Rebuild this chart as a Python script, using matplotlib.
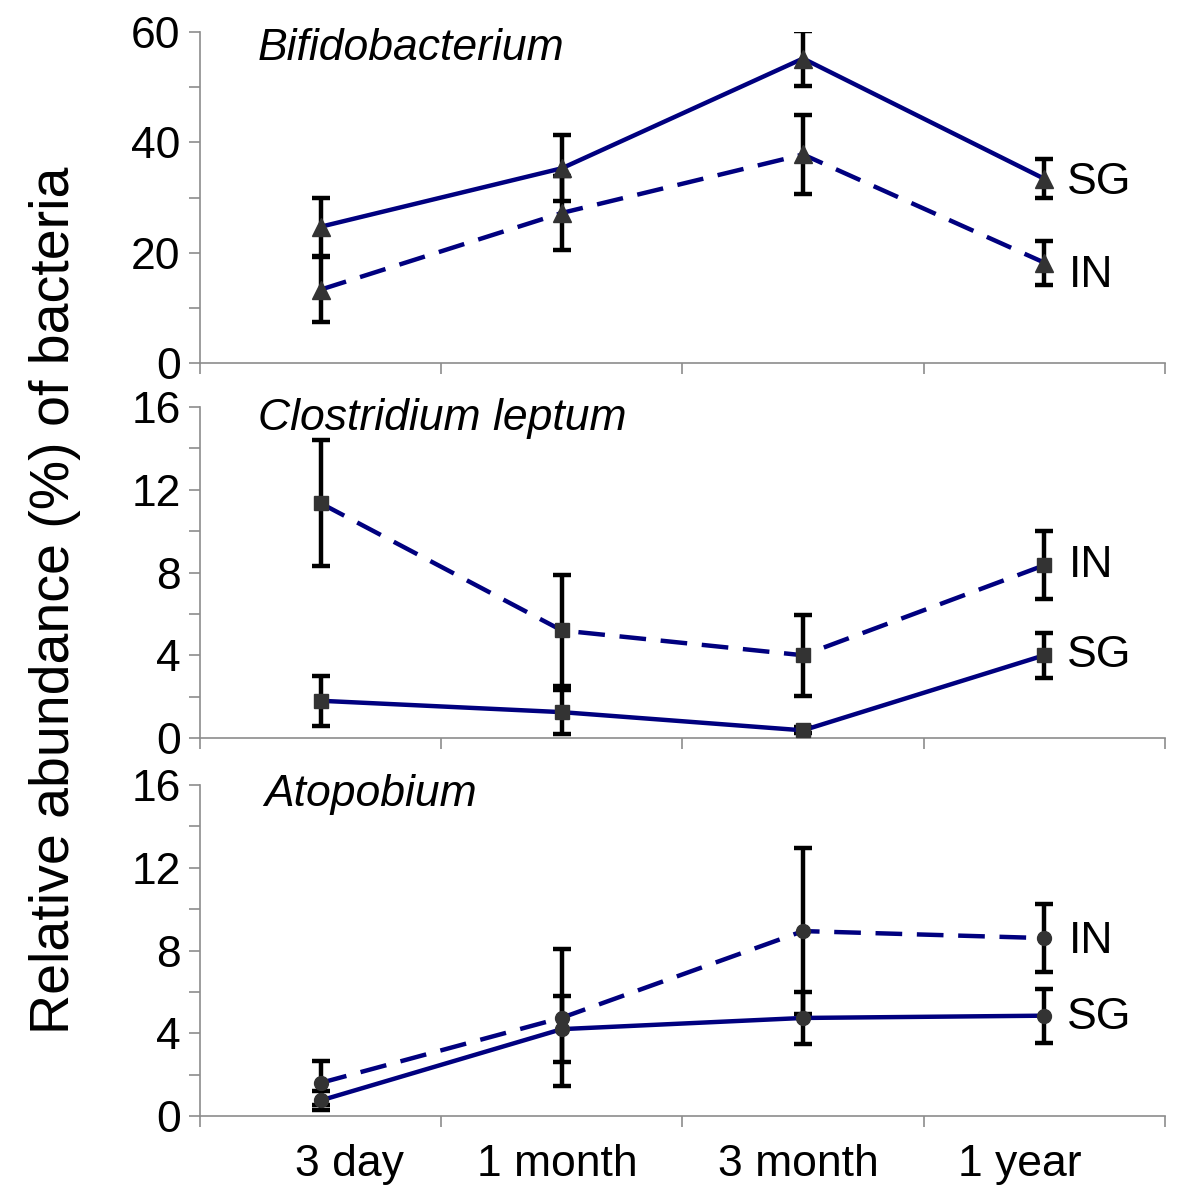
import numpy as np
import matplotlib
matplotlib.use('Agg')
import matplotlib.pyplot as plt

plt.rcParams['font.family'] = ['Liberation Sans', 'DejaVu Sans']

# data
times = ['3 day', '1 month', '3 month', '1 year']

bifido_sg = [24.7, 35.3, 55.2, 33.4]
bifido_sg_err = [5.3, 6.0, 5.0, 3.5]
bifido_in = [13.3, 27.2, 37.8, 18.2]
bifido_in_err = [5.9, 6.7, 7.2, 4.0]

clost_sg = [1.8, 1.25, 0.37, 4.0]
clost_sg_err = [1.2, 1.05, 0.15, 1.1]
clost_in = [11.35, 5.2, 4.0, 8.35]
clost_in_err = [3.05, 2.7, 1.95, 1.65]

atop_sg = [0.75, 4.2, 4.74, 4.85]
atop_sg_err = [0.45, 1.6, 1.25, 1.3]
atop_in = [1.6, 4.75, 8.94, 8.6]
atop_in_err = [1.05, 3.3, 4.0, 1.63]

titles = ['Bifidobacterium', 'Clostridium leptum', 'Atopobium']
ymax = [60, 16, 16]
ystep = [20, 4, 4]
marks = ['^', 's', 'o']
msizes = [13, 10.5, 10]
# (SG, IN) label pixel offsets in y
lab_dy = [(-4, -13), (0, 0), (-2, -3)]
title_pos = [(0.06, 0.95), (0.06, 0.965), (0.067, 0.97)]
# the category labels in the original are not quite centred on the points
label_shift = [0.12, -0.02, -0.02, -0.1]

panels = [(bifido_sg, bifido_sg_err, bifido_in, bifido_in_err),
          (clost_sg, clost_sg_err, clost_in, clost_in_err),
          (atop_sg, atop_sg_err, atop_in, atop_in_err)]

navy = '#00007f'
grey = '#8c8c8c'
mcol = '#333333'

fig = plt.figure(figsize=(12, 12), dpi=100)
bottoms = [0.6975, 0.385, 0.07]
x = np.arange(len(times)) + 0.5

for k in range(3):
    ax = fig.add_axes([0.1667, bottoms[k], 0.804, 0.2758])
    sg, sg_e, inn, inn_e = panels[k]

    ax.errorbar(x, inn, yerr=inn_e, fmt='none', ecolor='black', elinewidth=3.2,
                capsize=6.5, capthick=3.2, zorder=2)
    ax.errorbar(x, sg, yerr=sg_e, fmt='none', ecolor='black', elinewidth=3.2,
                capsize=6.5, capthick=3.2, zorder=2)
    ax.plot(x, inn, color=navy, lw=3.2, dashes=(6, 3.3), zorder=3)
    ax.plot(x, sg, color=navy, lw=3.2, zorder=3)
    ax.plot(x, inn, ls='none', marker=marks[k], ms=msizes[k], color=mcol, zorder=4)
    ax.plot(x, sg, ls='none', marker=marks[k], ms=msizes[k], color=mcol, zorder=4)

    ax.annotate('SG', xy=(x[-1], sg[-1]), xytext=(23, lab_dy[k][0]),
                textcoords='offset pixels', ha='left', va='center', fontsize=32)
    ax.annotate('IN', xy=(x[-1], inn[-1]), xytext=(25, lab_dy[k][1]),
                textcoords='offset pixels', ha='left', va='center', fontsize=32)

    ax.text(title_pos[k][0], title_pos[k][1], titles[k], transform=ax.transAxes,
            fontsize=32, style='italic', ha='left', va='center')

    ax.set_xlim(0, 4)
    ax.set_ylim(0, ymax[k])
    ax.set_yticks(np.arange(0, ymax[k] + 1, ystep[k]))
    ax.set_yticks(np.arange(ystep[k] / 2, ymax[k], ystep[k]), minor=True)
    ax.set_xticks(np.arange(0, 5))
    ax.set_xticklabels([])
    ax.set_xticks(x + np.array(label_shift), minor=True)
    if k == 2:
        ax.set_xticklabels(times, minor=True, fontsize=32)
    ax.tick_params(axis='x', which='minor', length=0, pad=20)
    ax.tick_params(axis='y', which='both', length=8, width=1.2, color=grey,
                   direction='out', labelsize=32, pad=6)
    ax.tick_params(axis='x', which='major', length=8, width=1.2, color=grey,
                   direction='out')
    ax.spines['top'].set_visible(False)
    ax.spines['right'].set_visible(False)
    for s in ['left', 'bottom']:
        ax.spines[s].set_color(grey)
        ax.spines[s].set_linewidth(1.2)

fig.text(0.046, 0.5, 'Relative abundance (%) of bacteria', rotation=90,
         ha='center', va='center', fontsize=40)

fig.savefig('out.png', dpi=100, facecolor='white')
